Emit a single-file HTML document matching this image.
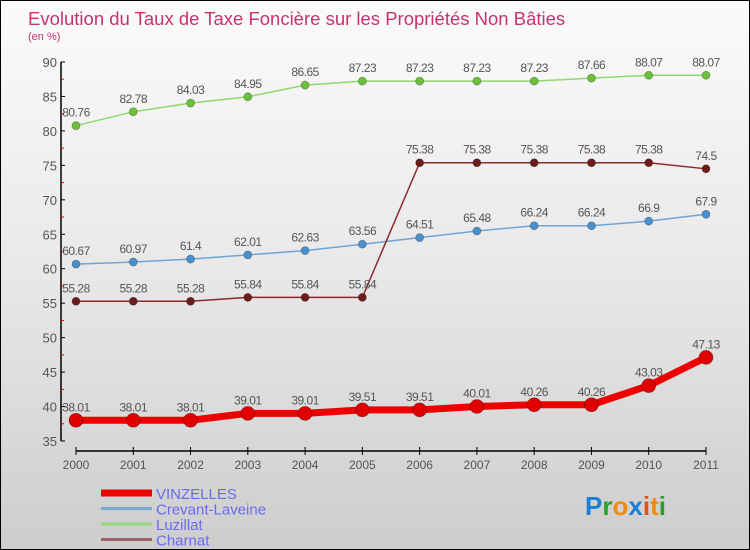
<!DOCTYPE html>
<html><head><meta charset="utf-8"><style>
body{margin:0;}
#wrap{position:relative;width:748px;height:548px;border:1px solid #000;background:linear-gradient(#fbfbfb,#e8e8e8 50%,#cdcdcd);font-family:"Liberation Sans",sans-serif;overflow:hidden}
svg{position:absolute;left:0;top:0}
</style></head><body>
<div id="wrap">
<svg id="c" width="750" height="550">
<text x="27" y="24" font-size="18.5" fill="#c8326e">Evolution du Taux de Taxe Foncière sur les Propriétés Non Bâties</text>
<text x="27" y="39" font-size="11" fill="#c8326e">(en %)</text>
</svg>
</div>
<script>
const years=[2000,2001,2002,2003,2004,2005,2006,2007,2008,2009,2010,2011];
const vinzelles=[38.01,38.01,38.01,39.01,39.01,39.51,39.51,40.01,40.26,40.26,43.03,47.13];
const crevant=[60.67,60.97,61.4,62.01,62.63,63.56,64.51,65.48,66.24,66.24,66.9,67.9];
const luzillat=[80.76,82.78,84.03,84.95,86.65,87.23,87.23,87.23,87.23,87.66,88.07,88.07];
const charnat=[55.28,55.28,55.28,55.84,55.84,55.84,75.38,75.38,75.38,75.38,75.38,74.5];
const yTicks=[35,40,45,50,55,60,65,70,75,80,85,90];
const vLabels=["38.01","38.01","38.01","39.01","39.01","39.51","39.51","40.01","40.26","40.26","43.03","47.13"];
const cLabels=["60.67","60.97","61.4","62.01","62.63","63.56","64.51","65.48","66.24","66.24","66.9","67.9"];
const lLabels=["80.76","82.78","84.03","84.95","86.65","87.23","87.23","87.23","87.23","87.66","88.07","88.07"];
const hLabels=["55.28","55.28","55.28","55.84","55.84","55.84","75.38","75.38","75.38","75.38","75.38","74.5"];
const svg=document.getElementById('c');const NS='http://www.w3.org/2000/svg';
const x=i=>75+i*(705-75)/(years.length-1);
const y=v=>440-(v-35)*(440-61)/55;
function mk(t,a,p){const e=document.createElementNS(NS,t);for(const k in a)e.setAttribute(k,a[k]);(p||svg).appendChild(e);return e;}
let ya=mk('line',{x1:60,y1:61,x2:60,y2:440,stroke:'#000','stroke-width':1.5});


yTicks.forEach((t,i)=>{
 mk('line',{x1:60,x2:64,y1:y(t),y2:y(t),stroke:'#000'});
 if(i<yTicks.length-1)mk('line',{x1:60,x2:63,y1:y(t+2.5),y2:y(t+2.5),stroke:'#e00'});
 const tx=mk('text',{x:56,y:y(t)+5,'font-size':13,fill:'#555','text-anchor':'end'});tx.textContent=t;
 
 
});
let xa=mk('line',{x1:x(0),y1:450,x2:x(11),y2:450,stroke:'#000','stroke-width':1.5});


years.forEach((yr,i)=>{
 mk('line',{x1:x(i),x2:x(i),y1:446,y2:454,stroke:'#000'});
 const tx=mk('text',{x:x(i),y:468,'font-size':12,fill:'#555','text-anchor':'middle'});tx.textContent=yr;
 
 
});
function series(vals,labels,color,dot,w,r,name){
 const g=mk('g',{});
 
 
 mk('polyline',{points:vals.map((v,i)=>x(i)+','+y(v)).join(' '),fill:'none',stroke:color,'stroke-width':w,'stroke-linejoin':'round'},g);
 vals.forEach((v,i)=>{
  const c=mk('circle',{cx:x(i),cy:y(v),r:r,fill:dot,stroke:'rgba(0,0,0,0.3)','stroke-width':0.8},g);
  
  
  const t=mk('text',{x:x(i),y:y(v)-9,'font-size':12,fill:'#555','text-anchor':'middle','letter-spacing':'-0.5'},g);t.textContent=labels[i];
  
  
 });
}
series(luzillat,lLabels,'#8fd86a','#6cc13a',1.5,4,'luzillat-series');
series(crevant,cLabels,'#6fa6d6','#4a90cc',1.5,4,'crevant-series');
series(charnat,hLabels,'#8b2a2a','#6b1c1c',1.5,4,'charnat-series');
series(vinzelles,vLabels,'#ee0000','#e00000',7,7,'vinzelles-series');
const leg=[['VINZELLES','#ee0000',7],['Crevant-Laveine','#7aaacb',3],['Luzillat','#97d779',3],['Charnat','#9a6464',3]];
leg.forEach((l,i)=>{
 const yy=492+i*15.5;
 const ln=mk('line',{x1:100,x2:151,y1:yy,y2:yy,stroke:l[1],'stroke-width':l[2]});
 
 
 const t=mk('text',{x:155,y:yy+6,'font-size':15,fill:'#6a6af0'});t.textContent=l[0];
 
 
});
const logo=mk('text',{x:584,y:514,'font-size':26,'font-weight':'bold'});


[['P','#1a7fd6'],['r','#2aa02a'],['o','#f08a10'],['x','#1a7fd6'],['i','#e05010'],['t','#f08a10'],['i','#2aa02a']].forEach(p=>{const s=mk('tspan',{fill:p[1]},logo);s.textContent=p[0];});
</script>
</body></html>
